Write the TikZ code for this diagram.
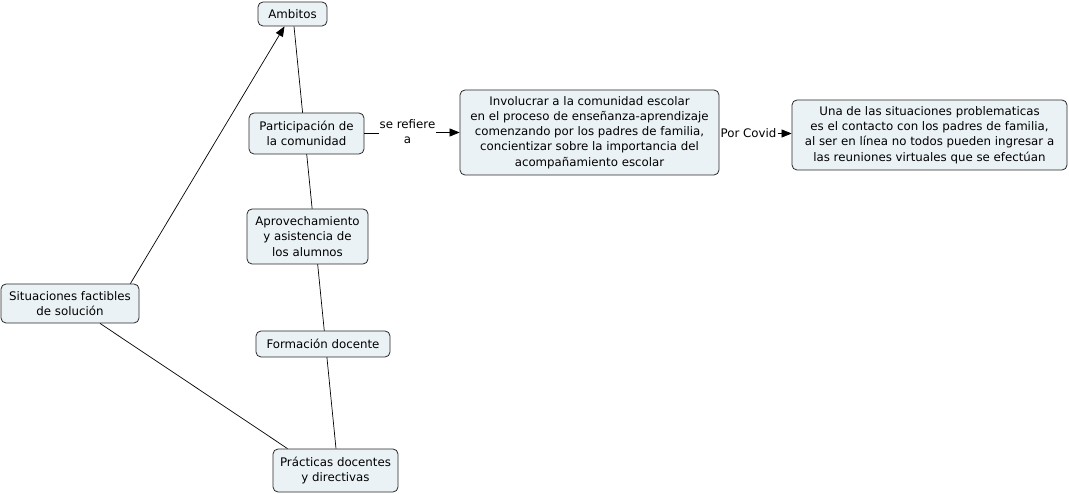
\documentclass[tikz,border=0pt]{standalone}
\usepackage{fontspec}
\setmainfont{DejaVu Sans}
\usetikzlibrary{arrows.meta,backgrounds}
\definecolor{cfill}{RGB}{235,242,245}
\definecolor{cline}{RGB}{40,40,40}
\newcommand{\cmfont}{\fontsize{11.8pt}{15.2pt}\selectfont}
\tikzset{
  concept/.style={draw=cline, fill=cfill, rounded corners=5pt, align=center,
    font=\cmfont, inner sep=1pt, line width=0.8pt, text=black},
  linklabel/.style={fill=white, inner sep=1pt, align=center, font=\cmfont, text=black},
  conn/.style={draw=black, line width=0.7pt},
  arr/.style={conn, -{Triangle[length=10pt,width=8pt]}}
}
\begin{document}
\begin{tikzpicture}[x=1pt,y=-1pt]
\useasboundingbox (0,0) rectangle (1069,494);
\node[concept, minimum width=69pt, minimum height=24pt] (amb) at (292.5,14) {Ambitos};
\node[concept, minimum width=115pt, minimum height=41pt] (part) at (306.5,133.5) {Participación de\\la comunidad};
\node[concept, minimum width=121pt, minimum height=55pt] (apro) at (307.5,236.5) {Aprovechamiento\\y asistencia de\\los alumnos};
\node[concept, minimum width=134pt, minimum height=26pt] (form) at (323,344) {Formación docente};
\node[concept, minimum width=125pt, minimum height=43pt] (prac) at (335.5,470.5) {Prácticas docentes\\y directivas};
\node[concept, minimum width=138pt, minimum height=39pt] (sit) at (70,303.5) {Situaciones factibles\\de solución};
\node[concept, minimum width=259pt, minimum height=85pt] (inv) at (589.5,132.5) {Involucrar a la comunidad escolar\\en el proceso de enseñanza-aprendizaje\\comenzando por los padres de familia,\\concientizar sobre la importancia del\\acompañamiento escolar};
\node[concept, minimum width=275pt, minimum height=70pt] (una) at (929.5,135) {Una de las situaciones problematicas\\es el contacto con los padres de familia,\\al ser en línea no todos pueden ingresar a\\las reuniones virtuales que se efectúan};
\node[linklabel] (sref) at (407.5,132) {se refiere\\a};
\node[linklabel] (covid) at (748.5,133.5) {Por Covid};
\begin{scope}[on background layer]
  \draw[conn] ([xshift=1.5pt]amb.south) -- ([xshift=0.5pt]prac.north);
\end{scope}
\draw[conn] (part.east) -- (sref.west |- part.east);
\draw[arr] (sref.east |- inv.west) -- (inv.west);
\draw[arr] (covid.east) -- (una.west |- covid.east);
\draw[arr] ([xshift=-9pt]sit.north east) -- ([xshift=-8pt]amb.south);
\draw[conn] ([xshift=30pt]sit.south) -- ([xshift=-48pt]prac.north);
\end{tikzpicture}
\end{document}
